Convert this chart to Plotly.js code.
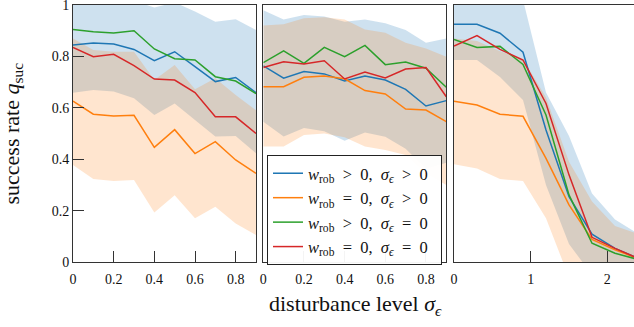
<!DOCTYPE html>
<html>
<head>
<meta charset="utf-8">
<script src="https://cdn.plot.ly/plotly-3.0.1.min.js"></script>
<style>
html, body { margin: 0; padding: 0; overflow: hidden; background: #fff; width: 634px; height: 327px; }
#chart { width: 642px; height: 327px; }
</style>
</head>
<body>
<div id="chart"></div>
<script>
// ---- data ----
const xA = [0, 0.1, 0.2, 0.3, 0.4, 0.5, 0.6, 0.7, 0.8, 0.9];
const xB = [0, 0.3, 0.6, 0.9, 1.2, 1.5, 1.8, 2.1, 2.4];

// panel 1
const p1Blue   = [0.844, 0.852, 0.848, 0.827, 0.783, 0.818, 0.760, 0.702, 0.718, 0.659];
const p1Orange = [0.626, 0.575, 0.568, 0.571, 0.446, 0.515, 0.422, 0.468, 0.397, 0.345];
const p1Green  = [0.905, 0.896, 0.891, 0.900, 0.829, 0.791, 0.786, 0.721, 0.704, 0.655];
const p1Red    = [0.835, 0.799, 0.808, 0.764, 0.712, 0.708, 0.659, 0.565, 0.565, 0.500];
const p1BlueHi   = [1.030, 1.035, 1.033, 1.017, 0.990, 1.010, 0.975, 0.935, 0.945, 0.903];
const p1BlueLo   = [0.659, 0.669, 0.663, 0.637, 0.572, 0.617, 0.553, 0.488, 0.490, 0.423];
const p1OrangeHi = [0.870, 0.825, 0.818, 0.818, 0.708, 0.767, 0.672, 0.715, 0.650, 0.590];
const p1OrangeLo = [0.377, 0.323, 0.315, 0.319, 0.193, 0.260, 0.170, 0.215, 0.150, 0.105];

// panel 2
const p2Blue   = [0.763, 0.715, 0.741, 0.732, 0.704, 0.724, 0.708, 0.672, 0.607, 0.628];
const p2Orange = [0.682, 0.682, 0.719, 0.724, 0.713, 0.667, 0.654, 0.595, 0.591, 0.546];
const p2Green  = [0.776, 0.822, 0.773, 0.835, 0.799, 0.843, 0.768, 0.778, 0.754, 0.680];
const p2Red    = [0.757, 0.779, 0.770, 0.783, 0.712, 0.739, 0.716, 0.751, 0.757, 0.643];
const p2BlueHi   = [0.980, 0.944, 0.961, 0.955, 0.935, 0.944, 0.929, 0.903, 0.853, 0.870];
const p2BlueLo   = [0.546, 0.488, 0.521, 0.509, 0.472, 0.504, 0.487, 0.441, 0.363, 0.386];
const p2OrangeHi = [0.920, 0.925, 0.948, 0.952, 0.944, 0.905, 0.892, 0.853, 0.831, 0.799];
const p2OrangeLo = [0.449, 0.449, 0.494, 0.500, 0.485, 0.449, 0.436, 0.416, 0.345, 0.300];

// panel 3
const p3Blue   = [0.925, 0.925, 0.890, 0.816, 0.514, 0.254, 0.108, 0.053, 0.014];
const p3Orange = [0.626, 0.611, 0.575, 0.567, 0.403, 0.222, 0.088, 0.047, 0.014];
const p3Green  = [0.866, 0.835, 0.839, 0.769, 0.572, 0.261, 0.073, 0.034, 0.010];
const p3Red    = [0.840, 0.881, 0.827, 0.786, 0.617, 0.339, 0.096, 0.053, 0.014];
const p3BlueHi   = [1.060, 1.060, 1.060, 1.020, 0.660, 0.490, 0.267, 0.165, 0.110];
const p3BlueLo   = [0.786, 0.786, 0.720, 0.630, 0.300, 0.070, -0.050, -0.060, -0.080];
const p3OrangeHi = [0.870, 0.860, 0.820, 0.790, 0.640, 0.390, 0.235, 0.140, 0.110];
const p3OrangeLo = [0.380, 0.364, 0.323, 0.315, 0.170, -0.060, -0.060, -0.050, -0.080];

const yTicks = [0, 0.2, 0.4, 0.6, 0.8, 1];
const yTickText = ['0', '0.2', '0.4', '0.6', '0.8', '1'];
const xTicksA = [0, 0.2, 0.4, 0.6, 0.8];
const xTickTextA = ['0', '0.2', '0.4', '0.6', '0.8'];
const xTicksB = [0, 1, 2];
const xTickTextB = ['0', '1', '2'];

const names = [
  '<i>w</i><sub>rob</sub>&nbsp;&nbsp;&gt;&nbsp;&nbsp;0,&nbsp;&nbsp;<i>σ</i><sub><i>ϵ</i></sub>&nbsp;&nbsp;&gt;&nbsp;&nbsp;0&nbsp;&nbsp;',
  '<i>w</i><sub>rob</sub>&nbsp;&nbsp;=&nbsp;&nbsp;0,&nbsp;&nbsp;<i>σ</i><sub><i>ϵ</i></sub>&nbsp;&nbsp;&gt;&nbsp;&nbsp;0&nbsp;&nbsp;',
  '<i>w</i><sub>rob</sub>&nbsp;&nbsp;&gt;&nbsp;&nbsp;0,&nbsp;&nbsp;<i>σ</i><sub><i>ϵ</i></sub>&nbsp;&nbsp;=&nbsp;&nbsp;0&nbsp;&nbsp;',
  '<i>w</i><sub>rob</sub>&nbsp;&nbsp;=&nbsp;&nbsp;0,&nbsp;&nbsp;<i>σ</i><sub><i>ϵ</i></sub>&nbsp;&nbsp;=&nbsp;&nbsp;0&nbsp;&nbsp;'
];
const colors = ['#1f77b4', '#ff7f0e', '#2ca02c', '#d62728'];
const fillBlue = 'rgba(31,119,180,0.22)';
const fillOrange = 'rgba(255,127,14,0.2)';

const panels = [
  {xs: xA, xa: 'x',  ya: 'y',  lines: [p1Blue, p1Orange, p1Green, p1Red], bHi: p1BlueHi, bLo: p1BlueLo, oHi: p1OrangeHi, oLo: p1OrangeLo, legend: true},
  {xs: xA, xa: 'x2', ya: 'y2', lines: [p2Blue, p2Orange, p2Green, p2Red], bHi: p2BlueHi, bLo: p2BlueLo, oHi: p2OrangeHi, oLo: p2OrangeLo, legend: false},
  {xs: xB, xa: 'x3', ya: 'y3', lines: [p3Blue, p3Orange, p3Green, p3Red], bHi: p3BlueHi, bLo: p3BlueLo, oHi: p3OrangeHi, oLo: p3OrangeLo, legend: false}
];

function band(xs, hi, lo, color, xa, ya) {
  return {
    x: xs.concat(xs.slice().reverse()),
    y: hi.concat(lo.slice().reverse()),
    xaxis: xa, yaxis: ya,
    type: 'scatter', mode: 'lines', fill: 'toself', fillcolor: color,
    line: {width: 0, color: 'rgba(0,0,0,0)'},
    hoverinfo: 'skip', showlegend: false
  };
}

const traces = [];
panels.forEach(p => {
  traces.push(band(p.xs, p.bHi, p.bLo, fillBlue, p.xa, p.ya));
  traces.push(band(p.xs, p.oHi, p.oLo, fillOrange, p.xa, p.ya));
});
panels.forEach(p => {
  p.lines.forEach((ys, i) => {
    traces.push({
      x: p.xs, y: ys, xaxis: p.xa, yaxis: p.ya,
      type: 'scatter', mode: 'lines',
      line: {color: colors[i], width: 1.5},
      name: names[i], showlegend: p.legend
    });
  });
});

const tickFont = {family: 'Liberation Serif, DejaVu Serif, serif', size: 14, color: '#111'};
function xaxis(domain, range, tv, tt, anchor) {
  return {
    domain: domain, range: range, anchor: anchor,
    tickvals: tv, ticktext: tt, tickfont: tickFont,
    ticks: 'inside', ticklen: 11, tickwidth: 1, tickcolor: '#333',
    ticklabelstandoff: 4,
    showline: true, linecolor: '#333', linewidth: 1, mirror: true,
    showgrid: false, zeroline: false, fixedrange: true
  };
}
function yaxis(anchor, labels) {
  return {
    domain: [0, 1], range: [0, 1], anchor: anchor,
    tickvals: yTicks, ticktext: yTickText, tickfont: tickFont,
    ticks: labels ? 'inside' : '', ticklen: 11, tickwidth: 1, tickcolor: '#333',
    showticklabels: labels, ticklabeloverflow: 'allow',
    showline: true, linecolor: '#333', linewidth: 1, mirror: true,
    showgrid: false, zeroline: false, fixedrange: true
  };
}

const W = 642, L = 73, R = 4, PW = W - L - R;
const layout = {
  width: W, height: 327,
  margin: {l: L, r: R, t: 5, b: 65},
  paper_bgcolor: '#fff', plot_bgcolor: '#fff',
  xaxis:  xaxis([0, 183 / PW], [0, 0.9], xTicksA, xTickTextA, 'y'),
  xaxis2: xaxis([(263.3 - L) / PW, (446.3 - L) / PW], [0, 0.9], xTicksA, xTickTextA, 'y2'),
  xaxis3: xaxis([(454 - L) / PW, 1], [0, 2.4], xTicksB, xTickTextB, 'y3'),
  yaxis:  yaxis('x', true),
  yaxis2: yaxis('x2', false),
  yaxis3: yaxis('x3', false),
  showlegend: true,
  legend: {
    x: (267 - L) / PW, y: (262 - 155) / 257, xanchor: 'left', yanchor: 'top',
    bgcolor: 'rgba(255,255,255,0.95)', bordercolor: '#222', borderwidth: 1,
    font: {family: 'Liberation Serif', size: 16.5, color: '#111'},
    itemwidth: 30, tracegroupgap: 0
  },
  annotations: [
    {text: 'disturbance level <i>σ</i><sub><i>ϵ</i></sub>', xref: 'paper', yref: 'paper',
     x: 0.5, y: (262 - 305) / 257, xanchor: 'center', yanchor: 'middle', showarrow: false,
     font: {family: 'Liberation Serif', size: 22, color: '#111'}},
    {text: 'success rate <i>q</i><sub>suc</sub>', xref: 'paper', yref: 'paper',
     x: (12 - L) / PW, y: 0.5, xanchor: 'center', yanchor: 'middle', textangle: -90, showarrow: false,
     font: {family: 'Liberation Serif', size: 22, color: '#111'}}
  ]
};

Plotly.newPlot('chart', traces, layout, {displayModeBar: false, staticPlot: true});
</script>
</body>
</html>
